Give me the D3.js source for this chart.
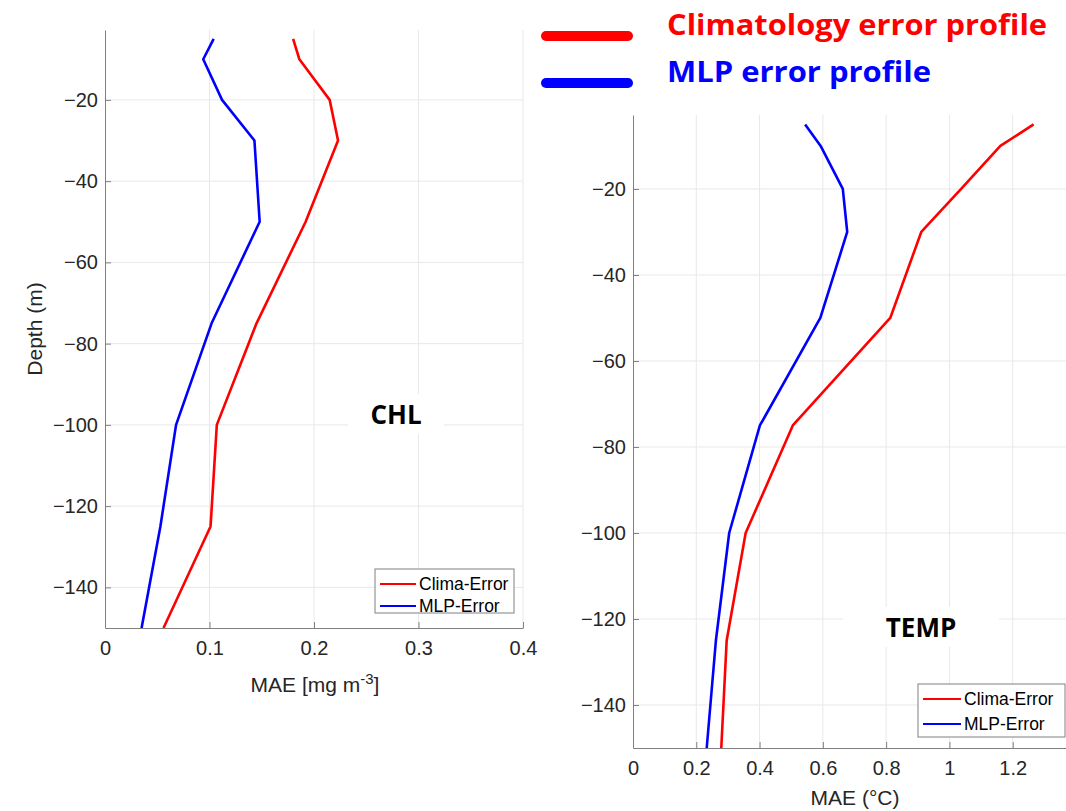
<!DOCTYPE html>
<meta charset="utf-8">
<style>
body { margin: 0; background: #fff; }
svg { display: block; font-family: "Liberation Sans", Arial, sans-serif; }
.grid line { stroke: #e8e8e8; stroke-width: 1px; }
.axis path, .axis line { stroke: #808080; }
.axis text { font-size: 20px; fill: #262626; }
.lbl { font-size: 21px; fill: #262626; }
.tag { font-family: "Open Sans", sans-serif; font-weight: bold; font-size: 26px; fill: #000; }
.leg text { font-size: 17.5px; fill: #000; }
</style>
<body></body>
<script src="https://cdn.jsdelivr.net/npm/d3@7"></script>
<script>
// depth levels (m) shared by both panels
var depths = [-5, -10, -20, -30, -50, -75, -100, -125, -150];

// CHL panel, MAE [mg m-3]
var chlClima = [0.180, 0.186, 0.215, 0.223, 0.192, 0.145, 0.107, 0.101, 0.056];
var chlMLP   = [0.104, 0.094, 0.112, 0.143, 0.148, 0.102, 0.068, 0.053, 0.035];

// TEMP panel, MAE (°C)
var tempClima = [1.266, 1.161, 1.037, 0.911, 0.813, 0.505, 0.356, 0.296, 0.279];
var tempMLP   = [0.544, 0.593, 0.663, 0.677, 0.592, 0.401, 0.304, 0.262, 0.233];

var yTicks = [-20, -40, -60, -80, -100, -120, -140];
var chlTicks = [0, 0.1, 0.2, 0.3, 0.4];
var tempTicks = [0, 0.2, 0.4, 0.6, 0.8, 1, 1.2];

var seriesNames = ["Clima-Error", "MLP-Error"];
var seriesColors = ["#ff0000", "#0000ff"];
var topLegend = ["Climatology error profile", "MLP error profile"];

var W = 1066, H = 811;
var svg = d3.select("body").append("svg").attr("width", W).attr("height", H);

var minus = function(v) { return String(v).replace("-", "\u2212"); };

function panel(o) {
  var x = d3.scaleLinear().domain(o.xdom).range([o.left, o.right]);
  var y = d3.scaleLinear().domain([-150, -2.8]).range([o.bottom, o.top]);
  var g = svg.append("g");

  var grid = g.append("g").attr("class", "grid");
  grid.selectAll("line.v").data(o.xticks.slice(1)).enter().append("line")
    .attr("x1", function(d) { return x(d); }).attr("x2", function(d) { return x(d); })
    .attr("y1", o.top).attr("y2", o.bottom);
  grid.selectAll("line.h").data(yTicks).enter().append("line")
    .attr("x1", o.left).attr("x2", o.right)
    .attr("y1", function(d) { return y(d); }).attr("y2", function(d) { return y(d); });

  // white box behind the panel tag (covers gridlines)
  g.append("rect").attr("x", o.tag.x - o.tag.w / 2).attr("y", o.tag.y - 30)
    .attr("width", o.tag.w).attr("height", 40).attr("fill", "#fff");
  g.append("text").attr("class", "tag").attr("x", o.tag.x).attr("y", o.tag.y)
    .attr("text-anchor", "middle").text(o.tag.text);

  var line = d3.line().x(function(d) { return x(d[0]); }).y(function(d) { return y(d[1]); });
  o.series.forEach(function(s, i) {
    g.append("path").datum(d3.zip(s, depths))
      .attr("d", line).attr("fill", "none")
      .attr("stroke", seriesColors[i]).attr("stroke-width", 2.6)
      .attr("stroke-linejoin", "round");
  });

  g.append("g").attr("class", "axis")
    .attr("transform", "translate(0," + o.bottom + ")")
    .call(d3.axisBottom(x).tickValues(o.xticks).tickSizeInner(-6).tickSizeOuter(0)
      .tickPadding(13).tickFormat(function(d) { return String(d); }));
  g.append("g").attr("class", "axis")
    .attr("transform", "translate(" + o.left + ",0)")
    .call(d3.axisLeft(y).tickValues(yTicks).tickSizeInner(-6).tickSizeOuter(0)
      .tickPadding(7).tickFormat(minus));

  g.append("text").attr("class", "lbl").attr("x", o.xlab.x).attr("y", o.xlab.y)
    .attr("text-anchor", "middle").html(o.xlab.html);

  // inside legend, bottom-right
  var lg = g.append("g").attr("class", "leg");
  lg.append("rect").attr("x", o.leg.x).attr("y", o.leg.y)
    .attr("width", o.leg.w).attr("height", o.leg.h)
    .attr("fill", "#fff").attr("stroke", "#808080");
  seriesNames.forEach(function(n, i) {
    var ry = o.leg.y + 15 + i * o.leg.dy;
    lg.append("line").attr("x1", o.leg.x + 5).attr("x2", o.leg.x + 5 + o.leg.lw)
      .attr("y1", ry).attr("y2", ry)
      .attr("stroke", seriesColors[i]).attr("stroke-width", 2.2);
    lg.append("text").attr("x", o.leg.x + 8 + o.leg.lw).attr("y", ry + 6).text(n);
  });
}

panel({
  left: 105, right: 523, top: 30, bottom: 628,
  xdom: [0, 0.4], xticks: chlTicks,
  series: [chlClima, chlMLP],
  tag: { text: "CHL", x: 396, y: 424, w: 96 },
  xlab: { x: 315, y: 692, html: "MAE [mg m<tspan dy='-8' font-size='15'>-3</tspan><tspan dy='8'>]</tspan>" },
  leg: { x: 375, y: 569, w: 139, h: 44, lw: 36, dy: 22 }
});

panel({
  left: 633, right: 1076, top: 115, bottom: 748,
  xdom: [0, 1.4], xticks: tempTicks,
  series: [tempClima, tempMLP],
  tag: { text: "TEMP", x: 921, y: 637, w: 156 },
  xlab: { x: 855, y: 805, html: "MAE (°C)" },
  leg: { x: 918, y: 684, w: 147, h: 53, lw: 38, dy: 25 }
});

// y label (left panel only)
svg.append("text").attr("class", "lbl")
  .attr("transform", "translate(42,329) rotate(-90)")
  .attr("text-anchor", "middle").text("Depth (m)");

// big legend at top
var tl = svg.append("g");
topLegend.forEach(function(t, i) {
  var yy = [36, 83][i];
  tl.append("line").attr("x1", 546).attr("x2", 628).attr("y1", yy).attr("y2", yy)
    .attr("stroke", seriesColors[i]).attr("stroke-width", 10).attr("stroke-linecap", "round");
  tl.append("text").attr("x", 667).attr("y", [35, 82][i])
    .attr("textLength", [380, 264][i]).attr("lengthAdjust", "spacingAndGlyphs")
    .attr("fill", seriesColors[i])
    .style("font-family", "'Open Sans', sans-serif").style("font-weight", "bold")
    .style("font-size", "28px").text(t);
});
</script>
